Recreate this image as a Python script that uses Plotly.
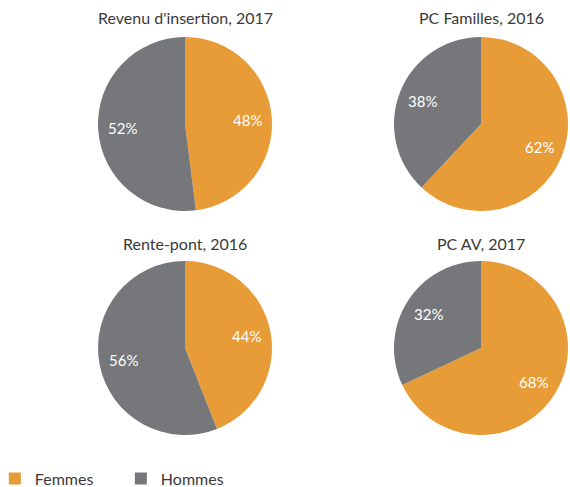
import math
import plotly.graph_objects as go

categories = ["Femmes", "Hommes"]
titles = ["Revenu d'insertion, 2017", "PC Familles, 2016", "Rente-pont, 2016", "PC AV, 2017"]
values = [
    [48, 52],
    [62, 38],
    [44, 56],
    [68, 32],
]
colors = ["#E89C37", "#76777B"]

W, H = 570, 487
centers = [(185, 124), (481, 124), (185, 348), (481, 348)]
R = 87
title_y = [18, 18, 243, 243]
FONT = "Lato, sans-serif"

fig = go.Figure()
for i, (t, v) in enumerate(zip(titles, values)):
    cx, cy = centers[i]
    fig.add_trace(go.Pie(
        labels=categories, values=v, sort=False, direction="clockwise", rotation=0,
        marker=dict(colors=colors, line=dict(width=0)),
        textinfo="none",
        domain=dict(x=[(cx - R) / W, (cx + R) / W], y=[1 - (cy + R) / H, 1 - (cy - R) / H]),
        showlegend=(i == 0), hoverinfo="label+percent",
    ))
    fig.add_annotation(text=t, x=cx / W, y=1 - title_y[i] / H, xref="paper", yref="paper",
                       showarrow=False, xanchor="center", yanchor="middle",
                       font=dict(size=16, color="#3a3a3a", family=FONT))
    # slice percentage labels placed along each slice's mid-angle
    total = sum(v)
    cum = 0
    for val in v:
        mid = (cum + val / 2) / total * 2 * math.pi
        cum += val
        lx = cx + 0.72 * R * math.sin(mid)
        ly = cy - 0.72 * R * math.cos(mid)
        fig.add_annotation(text=f"{round(val / total * 100)}%", x=lx / W, y=1 - ly / H,
                           xref="paper", yref="paper", showarrow=False,
                           xanchor="center", yanchor="middle",
                           font=dict(size=15, color="white", family=FONT))

fig.update_layout(
    width=W, height=H, margin=dict(l=0, r=0, t=0, b=0, autoexpand=False),
    paper_bgcolor="white", plot_bgcolor="white",
    font=dict(family=FONT, color="#3a3a3a"),
    legend=dict(orientation="h", x=-0.009, y=1 - 478.5 / H, xanchor="left", yanchor="middle",
                font=dict(size=16, color="#3a3a3a"), entrywidth=81, entrywidthmode="pixels",
                traceorder="normal"),
)
fig.write_html("out.html", config={"displayModeBar": False},
               post_script="document.body.style.margin='0';")
